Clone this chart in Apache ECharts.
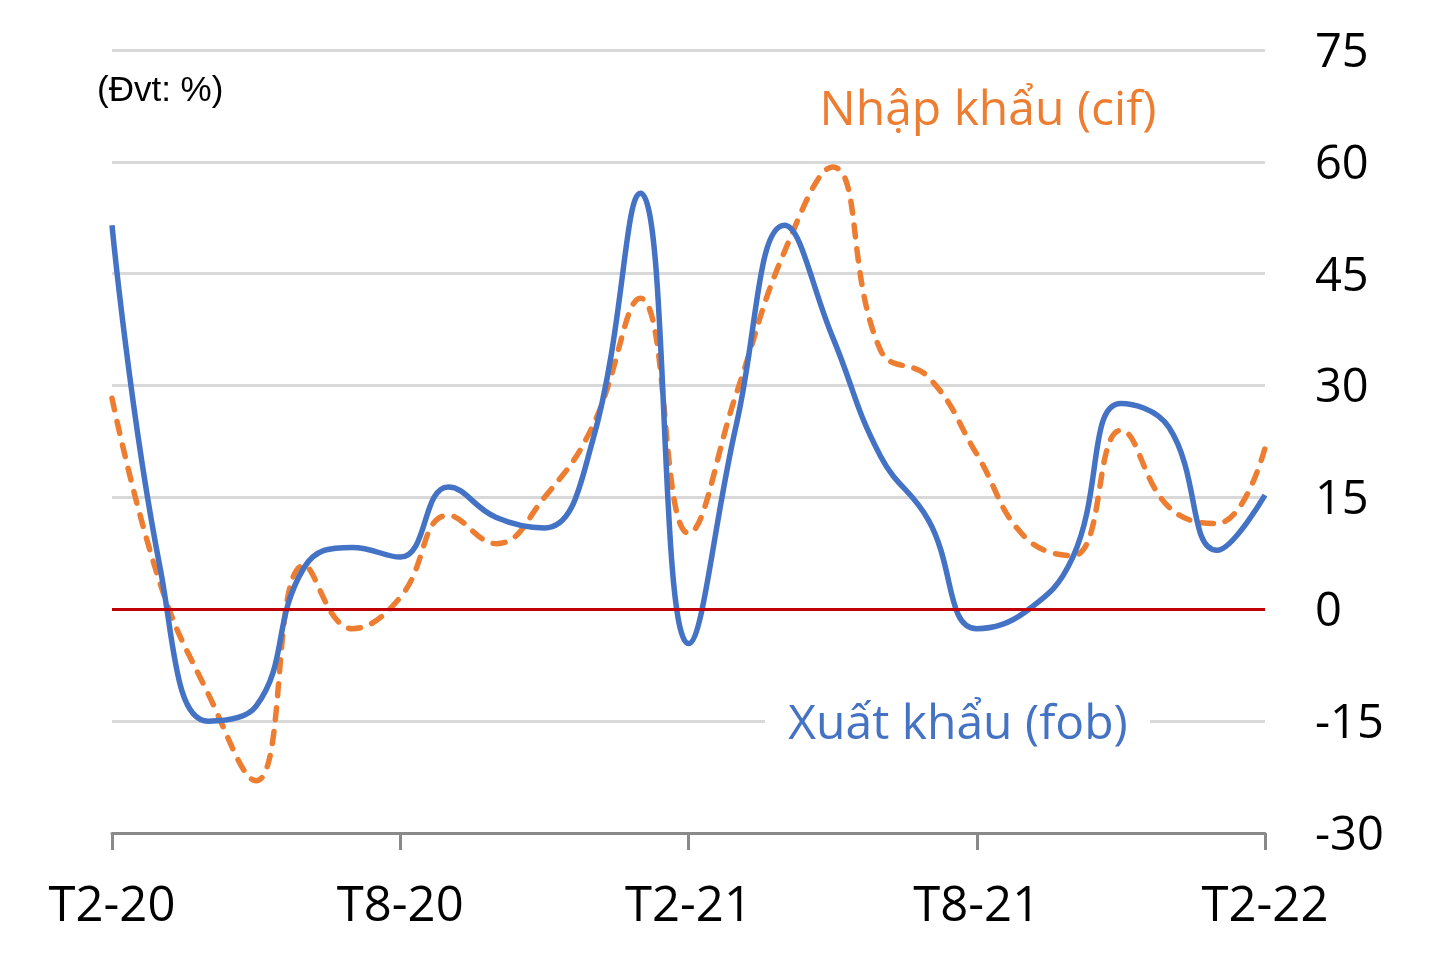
<!DOCTYPE html>
<html>
<head>
<meta charset="utf-8">
<script src="https://cdn.jsdelivr.net/npm/echarts@6/dist/echarts.min.js"></script>
<style>
html,body{margin:0;padding:0;background:#fff;}
#c{width:1451px;height:979px;}
</style>
</head>
<body>
<div id="c"></div>
<script>
const categories = ['T2-20','T3-20','T4-20','T5-20','T6-20','T7-20','T8-20','T9-20','T10-20','T11-20','T12-20','T1-21',
  'T2-21','T3-21','T4-21','T5-21','T6-21','T7-21','T8-21','T9-21','T10-21','T11-21','T12-21','T1-22','T2-22'];
const exportValues = [51.5, 5.6, -15.0, -13.0, 5.6, 8.3, 7.0, 16.4, 12.3, 10.9, 22.5, 55.8,
  -4.6, 24.9, 51.5, 36.5, 20.5, 11.9, -2.6, -0.4, 7.0, 27.6, 24.4, 7.9, 15.3];
const importValues = [28.3, 3.5, -11.3, -23.0, 5.9, -2.6, 1.6, 12.6, 8.8, 15.0, 24.5, 41.7,
  10.2, 29.0, 48.0, 59.3, 34.7, 31.1, 20.8, 9.7, 7.2, 24.0, 13.7, 11.5, 21.6];
const yTicks = {min: -30, max: 75, interval: 15};
const exportName = 'Xuất khẩu (fob)';
const importName = 'Nhập khẩu (cif)';
const unitLabel = '(Đvt: %)';

const chart = echarts.init(document.getElementById('c'), null, {renderer: 'canvas'});
const FONT = 'Open Sans';
chart.setOption({
  animation: false,
  backgroundColor: '#ffffff',
  grid: {left: 112, right: 186, top: 50, bottom: 146, containLabel: false},
  xAxis: {
    type: 'category',
    data: categories,
    boundaryGap: false,
    axisLine: {show: true, onZero: false, lineStyle: {color: '#898989', width: 3}},
    axisTick: {show: true, interval: 5, length: 17, lineStyle: {color: '#898989', width: 3}},
    axisLabel: {interval: 5, fontSize: 49, fontFamily: FONT, color: '#000', margin: 50},
    splitLine: {show: false}
  },
  yAxis: {
    type: 'value',
    position: 'right',
    min: yTicks.min, max: yTicks.max, interval: yTicks.interval,
    axisLine: {show: false},
    axisTick: {show: false},
    axisLabel: {fontSize: 47, fontFamily: FONT, color: '#000', margin: 50, verticalAlign: 'top', lineHeight: 7},
    splitLine: {show: true, lineStyle: {color: '#d9d9d9', width: 3}}
  },
  series: [
    {
      name: importName,
      type: 'line',
      data: importValues,
      smooth: 0.45,
      symbol: 'none',
      lineStyle: {color: '#ed7d31', width: 5.5, type: [12, 12], cap: 'round'},
      z: 3
    },
    {
      name: exportName,
      type: 'line',
      data: exportValues,
      smooth: 0.45,
      symbol: 'none',
      lineStyle: {color: '#4472c4', width: 5.5},
      z: 4,
      markLine: {
        silent: true,
        symbol: 'none',
        label: {show: false},
        lineStyle: {color: '#c00000', width: 3, type: 'solid'},
        data: [{yAxis: 0}]
      }
    }
  ],
  graphic: [
    {type: 'rect', shape: {x: 765, y: 712, width: 385, height: 20}, style: {fill: '#ffffff'}, z: 10},
    {type: 'text', style: {x: 958, y: 725, text: exportName, fill: '#4472c4', font: '48px "Open Sans"', textAlign: 'center', textVerticalAlign: 'middle'}, z: 11},
    {type: 'text', style: {x: 988, y: 111, text: importName, fill: '#ed7d31', font: '48px "Open Sans"', textAlign: 'center', textVerticalAlign: 'middle'}, z: 11},
    {type: 'text', style: {x: 97, y: 91, text: unitLabel, fill: '#000', font: '35px "Liberation Sans"', textAlign: 'left', textVerticalAlign: 'middle'}, z: 11}
  ]
});
</script>
</body>
</html>
